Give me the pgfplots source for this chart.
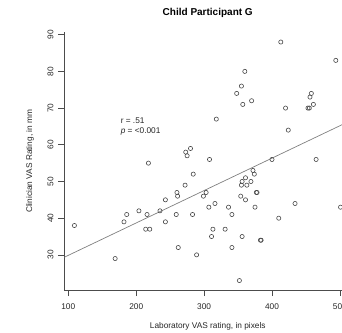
\documentclass[border=0pt]{standalone}
\usepackage{pgfplots}
\pgfplotsset{compat=1.18}
\usepackage{fontspec}
\setmainfont{Liberation Sans}
\begin{document}
\fontsize{8.3}{10}\selectfont
\begin{tikzpicture}
\path[use as bounding box, clip] (-64.3pt,-41.9pt) rectangle (277.7pt,290.1pt);
\begin{axis}[
  at={(0,0)}, anchor=south west,
  scale only axis,
  width=286.9pt, height=257.6pt,
  xmin=94.1, xmax=516.7, ymin=20.4, ymax=90.6,
  axis x line*=bottom, axis y line*=left,
  axis line style={black!70, line width=0.6pt, -},
  every tick/.style={black!70, line width=0.6pt},
  tick align=outside, major tick length=6pt,
  xtick={100,200,300,400,500},
  ytick={30,40,50,60,70,80,90},
  /pgf/number format/assume math mode=true,
  tick label style={font=\fontsize{8.3}{10}\selectfont, text=black!85},
  yticklabel style={rotate=90, anchor=south},
  xticklabel shift=5pt,
  yticklabel shift=2pt,
  every axis x label/.style={at={(axis description cs:0.5,0)}, anchor=center, yshift=-35.9pt, font=\fontsize{8.3}{10}\selectfont, text=black!85},
  every axis y label/.style={at={(axis description cs:0,0.5)}, anchor=center, rotate=90, yshift=34.3pt, font=\fontsize{8.3}{10}\selectfont, text=black!85},
  every axis title/.style={at={(axis description cs:0.5,1)}, anchor=center, yshift=19.8pt, font=\fontsize{10}{12}\selectfont\bfseries},
  title={Child Participant G},
  xlabel={Laboratory VAS rating, in pixels},
  ylabel={Clinician VAS Rating, in mm},
]
\addplot[black!50, line width=0.7pt] coordinates {(94.1,29.35) (516.7,66.66)};
\addplot[only marks, mark=o, mark size=2.1pt, mark options={black!72, line width=0.6pt}] coordinates {
(109,38) (169,29) (182,39) (186,41) (204,42) (214,37) (220,37) (216,41) (218,55) (235,42)
(243,45) (243,39) (259,41) (260,47) (261,46) (262,32) (272,49) (273,58) (275,57) (280,59)
(284,52) (283,41) (289,30) (299,46) (303,47) (307,43) (308,56) (311,35) (313,37) (316,44)
(318,67) (331,37) (336,43) (341,41) (341,32) (348,74) (352,23) (355,76) (354,46) (356,35)
(355,49) (356,50) (357,71) (360,80) (361,51) (361,45) (363,49) (369,50) (370,72) (372,53)
(374,52) (375,43) (377,47) (378,47) (383,34) (384,34) (400,56) (410,40) (413,88) (420,70)
(424,64) (434,44) (453,70) (455,70) (456,73) (458,74) (461,71) (465,56) (494,83) (501,43)
};
\node[anchor=base west, inner sep=0pt, text=black!85] at (axis cs:177,65.93) {r = .51};
\node[anchor=base west, inner sep=0pt, text=black!85] at (axis cs:177,63.0) {\textit{p} = <0.001};
\end{axis}
\end{tikzpicture}
\end{document}
